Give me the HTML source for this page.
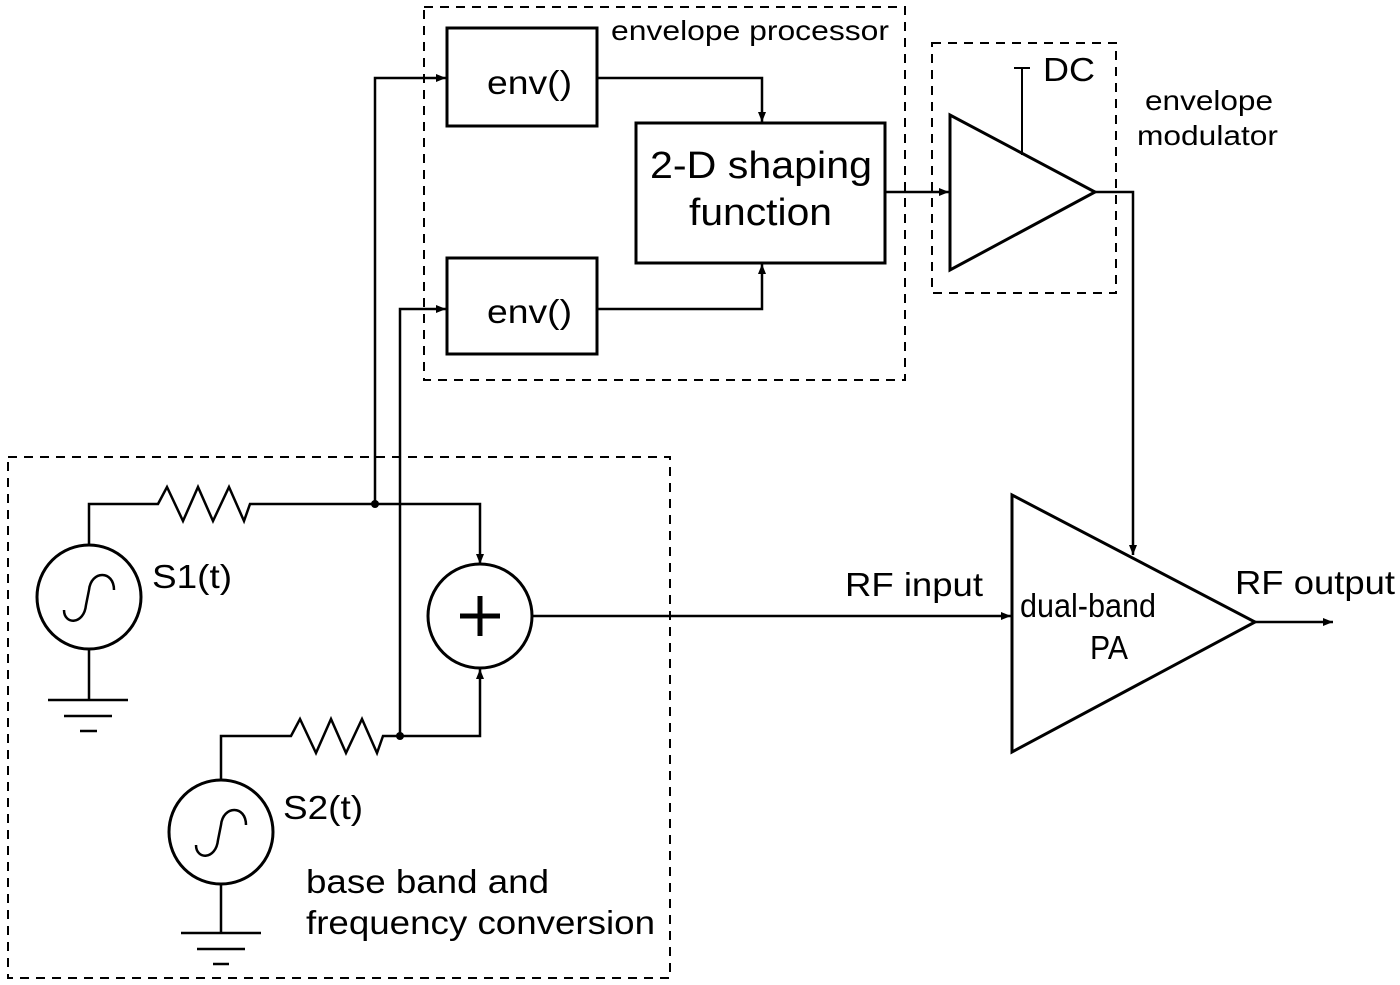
<!DOCTYPE html>
<html><head><meta charset="utf-8"><style>
html,body{margin:0;padding:0;background:#fff}
svg{display:block}
text{font-family:"Liberation Sans",Arial,sans-serif;fill:#000}
</style></head><body>
<svg width="1400" height="985" viewBox="0 0 1400 985" xmlns="http://www.w3.org/2000/svg">
<defs>
<marker id="a" markerWidth="10" markerHeight="8" refX="10" refY="4" orient="auto" markerUnits="userSpaceOnUse">
<path d="M0,0 L10,4 L0,8 z" fill="#000"/></marker>
</defs>
<g fill="none" stroke="#000" stroke-width="2" stroke-dasharray="9,7">
<rect x="424" y="7" width="481" height="373"/>
<rect x="932" y="43" width="184" height="250"/>
<rect x="8" y="457" width="662" height="521"/>
</g>
<g fill="none" stroke="#000" stroke-width="3">
<rect x="447" y="28" width="150" height="98"/>
<rect x="447" y="258" width="150" height="96"/>
<rect x="636" y="123" width="249" height="140"/>
<polygon points="950,115 950,270 1095,192"/>
<polygon points="1012,495 1012,752 1255,622"/>
<circle cx="89" cy="597" r="52"/>
<circle cx="221" cy="832" r="52"/>
<circle cx="480" cy="616" r="52"/>
<path d="M64,610 C64,625 84,625 86,605 L89,590 C91,570 114,570 114,590" stroke-width="2.5"/>
<path d="M196,845 C196,860 216,860 218,840 L221,825 C223,805 246,805 246,825" stroke-width="2.5"/>
<path d="M460,616 H500 M480,596 V636" stroke-width="5"/>
</g>
<g fill="none" stroke="#000" stroke-width="2.5">
<path d="M597,78 H762 V122" marker-end="url(#a)"/>
<path d="M597,309 H762 V264" marker-end="url(#a)"/>
<path d="M885,192 H949" marker-end="url(#a)"/>
<path d="M1095,192 H1133 V555" marker-end="url(#a)"/>
<path d="M1022,155 V68 M1014,68 H1030" stroke-width="2"/>
<path d="M375,504 V78 H446" marker-end="url(#a)"/>
<path d="M400,736 V309 H446" marker-end="url(#a)"/>
<path d="M89,545 V504 H158 L167,487 L183,521 L198,487 L213,521 L229,487 L244,521 L250,504 H480 V564" marker-end="url(#a)"/>
<path d="M221,780 V736 H291 L300,719 L316,753 L331,719 L346,753 L362,719 L377,753 L383,736 H480 V669" marker-end="url(#a)"/>
<path d="M531,616 H1011" marker-end="url(#a)"/>
<path d="M1255,622 H1333" marker-end="url(#a)"/>
<path d="M89,649 V700 M48,700 H128 M64,716 H112 M80,731 H97"/>
<path d="M221,884 V933 M181,933 H261 M197,949 H245 M213,964 H229"/>
</g>
<circle cx="375" cy="504" r="4" fill="#000"/>
<circle cx="400" cy="736" r="4" fill="#000"/>
<g font-size="33">
<text x="487" y="94" textLength="85" lengthAdjust="spacingAndGlyphs">env()</text>
<text x="487" y="323" textLength="85" lengthAdjust="spacingAndGlyphs">env()</text>
<text x="152" y="588" textLength="80" lengthAdjust="spacingAndGlyphs">S1(t)</text>
<text x="283" y="819" textLength="80" lengthAdjust="spacingAndGlyphs">S2(t)</text>
<text x="306" y="893" textLength="243" lengthAdjust="spacingAndGlyphs">base band and</text>
<text x="306" y="934" textLength="349" lengthAdjust="spacingAndGlyphs">frequency conversion</text>
<text x="845" y="596" textLength="138" lengthAdjust="spacingAndGlyphs">RF input</text>
<text x="1020" y="617" textLength="136" lengthAdjust="spacingAndGlyphs">dual-band</text>
<text x="1090" y="659" textLength="38" lengthAdjust="spacingAndGlyphs">PA</text>
<text x="1235" y="594" textLength="160" lengthAdjust="spacingAndGlyphs">RF output</text>
<text x="1043" y="81" textLength="52" lengthAdjust="spacingAndGlyphs">DC</text>
</g>
<text x="650" y="178" font-size="38" textLength="222" lengthAdjust="spacingAndGlyphs">2-D shaping</text>
<text x="689" y="225" font-size="38" textLength="143" lengthAdjust="spacingAndGlyphs">function</text>
<text x="611" y="40" font-size="28" textLength="278" lengthAdjust="spacingAndGlyphs">envelope processor</text>
<text x="1145" y="110" font-size="28" textLength="128" lengthAdjust="spacingAndGlyphs">envelope</text>
<text x="1137" y="145" font-size="28" textLength="141" lengthAdjust="spacingAndGlyphs">modulator</text>
</svg>
</body></html>
